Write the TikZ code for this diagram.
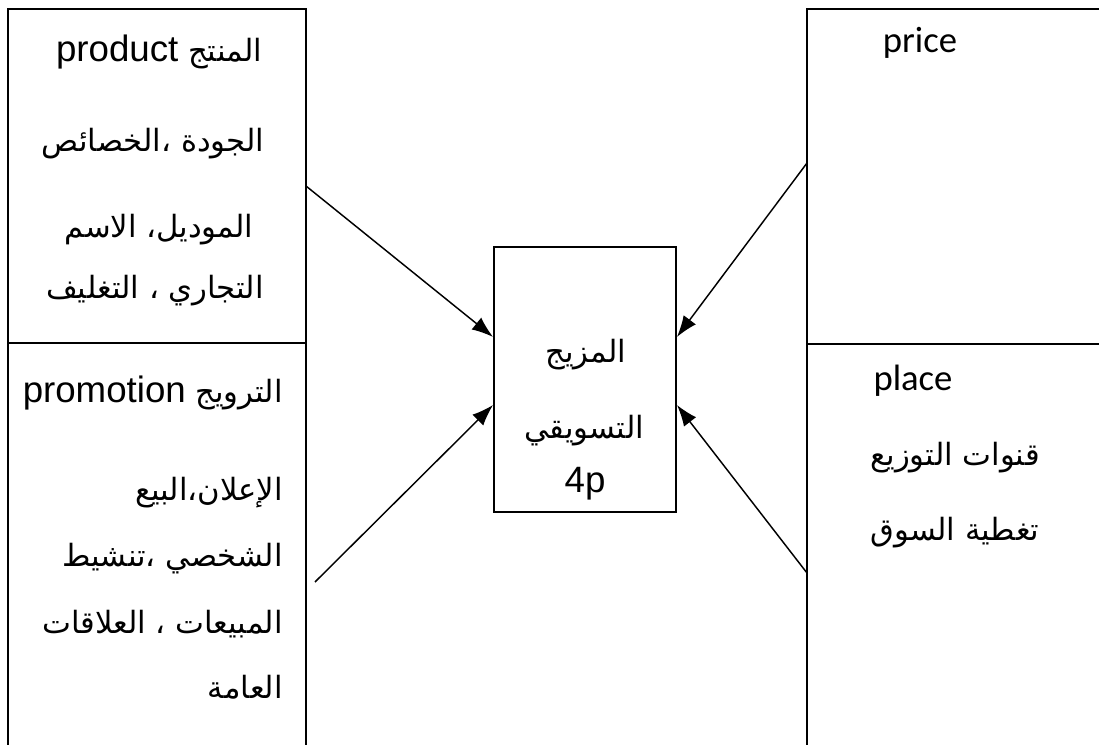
\documentclass[tikz,border=0pt]{standalone}
\usepackage{fontspec}
\TeXXeTstate=1
\newfontfamily\arabicfont[Script=Arabic]{DejaVu Sans}
\newfontfamily\arialfont{Liberation Sans}
\newfontfamily\calfont{Carlito}
\usetikzlibrary{arrows.meta}
\newcommand{\latsize}{\fontsize{27.5}{32}\selectfont}
\tikzset{
  frame/.style={draw, line width=1.4pt, inner sep=0pt},
  artxt/.style={inner sep=0pt, anchor=base, font=\arabicfont\fontsize{23}{27}\selectfont},
  latxt/.style={inner sep=0pt, anchor=base, font=\arialfont\latsize},
  caltxt/.style={inner sep=0pt, anchor=base, font=\calfont\fontsize{27.5}{32}\selectfont},
  arr/.style={-{Latex[length=16pt,width=11.5pt]}, line width=1.1pt}
}
\begin{document}
\begin{tikzpicture}[x=0.75pt,y=-0.75pt]
\useasboundingbox (0,0) rectangle (1099,745);
\clip (0,0) rectangle (1099,745);
\fill[white] (0,0) rectangle (1099,745);
% boxes
\node[frame, minimum width=223.5pt, minimum height=250.5pt] (lt) at (157,176) {};
\node[frame, minimum width=223.5pt, minimum height=312.75pt] (lb) at (157,551.5) {};
\node[frame, minimum width=223.5pt, minimum height=251.25pt] (rt) at (956,176.5) {};
\node[frame, minimum width=223.5pt, minimum height=312pt] (rb) at (956,552) {};
\node[frame, minimum width=136.5pt, minimum height=198.75pt] (ctr) at (585,379.5) {};
% left top texts
\node[artxt] (lt1) at (159,62) {\beginR المنتج \beginL{\arialfont\latsize product}\endL\endR};
\node[artxt] (lt2) at (153,152) {\beginR الجودة ،الخصائص\endR};
\node[artxt] (lt3) at (159,238) {\beginR الموديل، الاسم\endR};
\node[artxt] (lt4) at (155,298) {\beginR التجاري ، التغليف\endR};
% left bottom texts
\node[artxt, anchor=base east] (lb1) at (283,402) {\beginR الترويج \beginL{\arialfont\latsize promotion}\endL\endR};
\node[artxt, anchor=base east] (lb2) at (283,500) {\beginR الإعلان،البيع\endR};
\node[artxt, anchor=base east] (lb3) at (283,566) {\beginR الشخصي ،تنشيط\endR};
\node[artxt, anchor=base east] (lb4) at (283,633) {\beginR المبيعات ، العلاقات\endR};
\node[artxt, anchor=base east] (lb5) at (283,698) {\beginR العامة\endR};
% right texts
\node[caltxt] (rt1) at (920,53) {price};
\node[caltxt] (rb1) at (913,390) {place};
\node[artxt] (rb2) at (955,465) {\beginR قنوات التوزيع\endR};
\node[artxt] (rb3) at (955,540) {\beginR تغطية السوق\endR};
% centre texts
\node[artxt] (c1) at (586,362) {\beginR المزيج\endR};
\node[artxt] (c2) at (584,438) {\beginR التسويقي\endR};
\node[latxt] (c3) at (585,492) {4p};
% arrows
\coordinate (s1) at (306,186);
\coordinate (s2) at (315,582);
\coordinate (s3) at (807,163);
\coordinate (s4) at (807,573);
\coordinate (e1) at ([yshift=31.9pt]ctr.west);
\coordinate (e2) at ([yshift=-19.1pt]ctr.west);
\coordinate (e3) at ([yshift=31.9pt]ctr.east);
\coordinate (e4) at ([yshift=-19.1pt]ctr.east);
\draw[arr] (s1) -- (e1);
\draw[arr] (s2) -- (e2);
\draw[arr] (s3) -- (e3);
\draw[arr] (s4) -- (e4);
\end{tikzpicture}
\end{document}
